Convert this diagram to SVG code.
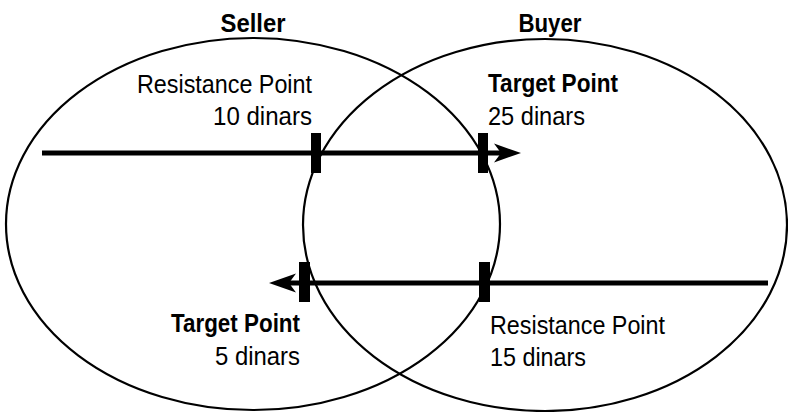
<svg xmlns="http://www.w3.org/2000/svg" width="788" height="412" viewBox="0 0 788 412">
<style>
.ell{fill:none;stroke:#000;stroke-width:2.2}
.ln{stroke:#000;stroke-width:5;fill:none}
.head{fill:#000}
.tick{fill:#000}
.t{font-family:"Liberation Sans",Arial,sans-serif;font-size:25px;fill:#000}
.b{font-weight:bold;font-size:25px}
</style>
<rect width="788" height="412" fill="#fff"/>
<g id="seller">
<ellipse class="ell" cx="253" cy="224" rx="247" ry="186"/>
<text class="t b" x="253" y="32" text-anchor="middle" textLength="65" lengthAdjust="spacingAndGlyphs">Seller</text>
</g>
<g id="buyer">
<ellipse class="ell" cx="545" cy="225" rx="242" ry="186"/>
<text class="t b" x="550" y="32" text-anchor="middle" textLength="63" lengthAdjust="spacingAndGlyphs">Buyer</text>
</g>
<g id="connectors">
<line class="ln" x1="42" y1="153" x2="505" y2="153"/>
<path class="head" d="M521,153 L494,143.5 L501,153 L494,162.5 Z"/>
<line class="ln" x1="768" y1="283" x2="285" y2="283"/>
<path class="head" d="M269,283 L296,273.5 L289,283 L296,292.5 Z"/>
</g>
<g id="seller-resistance">
<rect class="tick" x="311" y="133" width="10" height="40"/>
<text class="t" x="312" y="93" text-anchor="end" textLength="175" lengthAdjust="spacingAndGlyphs">Resistance Point</text>
<text class="t" x="312" y="125" text-anchor="end" textLength="99" lengthAdjust="spacingAndGlyphs">10 dinars</text>
</g>
<g id="buyer-target">
<rect class="tick" x="478" y="133" width="10" height="40"/>
<text class="t b" x="488" y="92" textLength="130" lengthAdjust="spacingAndGlyphs">Target Point</text>
<text class="t" x="488" y="125" textLength="97" lengthAdjust="spacingAndGlyphs">25 dinars</text>
</g>
<g id="seller-target">
<rect class="tick" x="299" y="262" width="11" height="40"/>
<text class="t b" x="300" y="332" text-anchor="end" textLength="129" lengthAdjust="spacingAndGlyphs">Target Point</text>
<text class="t" x="300" y="365" text-anchor="end" textLength="85" lengthAdjust="spacingAndGlyphs">5 dinars</text>
</g>
<g id="buyer-resistance">
<rect class="tick" x="479" y="262" width="11" height="40"/>
<text class="t" x="490" y="334" textLength="175" lengthAdjust="spacingAndGlyphs">Resistance Point</text>
<text class="t" x="490" y="366" textLength="96" lengthAdjust="spacingAndGlyphs">15 dinars</text>
</g>
</svg>
